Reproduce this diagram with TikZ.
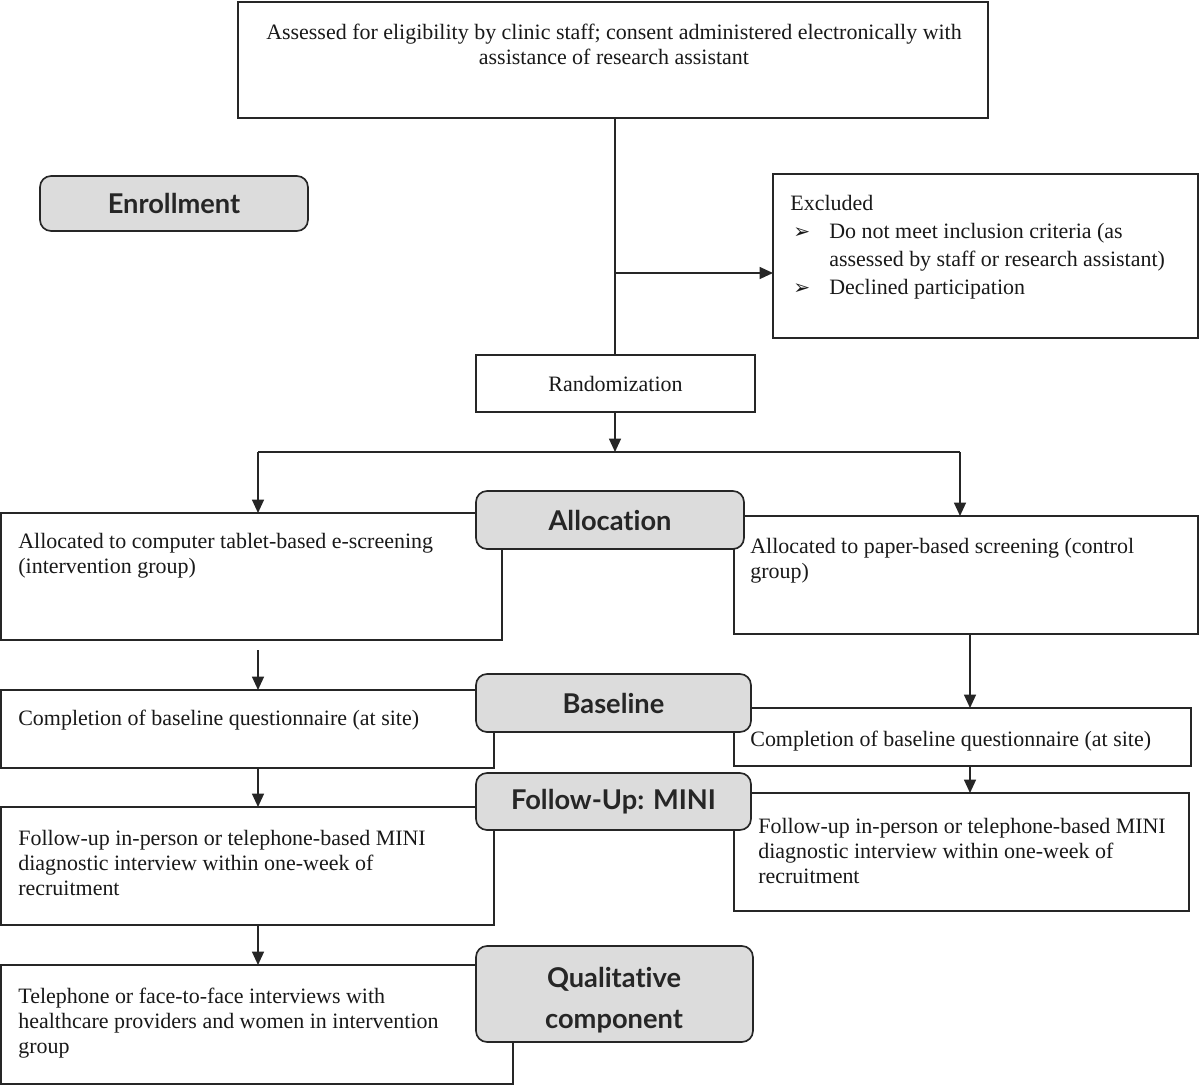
\documentclass[tikz,border=0pt]{standalone}
\usepackage{fontspec}
\setmainfont{Liberation Serif}
\newfontfamily\labfont[Ligatures=NoCommon]{Lato}
\newfontfamily\dejavu{DejaVu Sans}
\usetikzlibrary{arrows.meta}
\definecolor{labgray}{HTML}{DCDCDC}
\definecolor{edge}{HTML}{262626}
\begin{document}
\begin{tikzpicture}[x=0.02cm,y=-0.02cm,
  box/.style={draw=edge,line width=0.95pt,rectangle,anchor=north west,inner sep=0pt,outer sep=0pt},
  lab/.style={draw=edge,line width=0.95pt,fill=labgray,rounded corners=0.22cm,anchor=north west,inner sep=0pt,outer sep=0pt,
     font=\labfont\bfseries\fontsize{15.5}{23}\selectfont,text=black!85,align=center},
  labtxt/.style={inner sep=0pt,font=\labfont\bfseries\fontsize{15.5}{23}\selectfont,text=black!85,align=center},
  txt/.style={inner sep=0pt,anchor=west,align=left,font=\fontsize{12.5}{14.2}\selectfont,text=black!90},
  ln/.style={draw=edge,line width=0.95pt},
  arr/.style={draw=edge,line width=0.95pt,-{Triangle[length=0.27cm,width=0.24cm]}}]
\useasboundingbox[fill=white] (0,0) rectangle (1200,1086);

% boxes
\node[box,minimum width=15cm,minimum height=2.32cm] (top) at (238,2) {};
\node[txt,anchor=center,align=center] (toptxt) at (614,44) {Assessed for eligibility by clinic staff; consent administered electronically with\\assistance of research assistant};

\node[box,minimum width=8.5cm,minimum height=3.28cm] (excl) at (773,174) {};
\node[txt,font=\fontsize{12.5}{15.9}\selectfont] (excltxt) at (790,247) {Excluded\\
\hspace*{0.06cm}\makebox[0.72cm][l]{\dejavu\fontsize{11.5}{11}\selectfont ➢}Do not meet inclusion criteria (as\\
\hspace*{0.78cm}assessed by staff or research assistant)\\
\hspace*{0.06cm}\makebox[0.72cm][l]{\dejavu\fontsize{11.5}{11}\selectfont ➢}Declined participation};

\node[box,minimum width=5.58cm,minimum height=1.14cm] (rand) at (476,355) {};
\node[txt,anchor=center] (randtxt) at (rand.center) {Randomization};

\node[box,minimum width=10.02cm,minimum height=2.54cm] (alloL) at (1,513) {};
\node[txt] (alloLtxt) at (18,556) {Allocated to computer tablet-based e-screening\\(intervention group)};
\node[box,minimum width=9.28cm,minimum height=2.36cm] (alloR) at (734,516) {};
\node[txt] (alloRtxt) at (750,561) {Allocated to paper-based screening (control\\group)};

\node[box,minimum width=9.86cm,minimum height=1.56cm] (baseL) at (1,690) {};
\node[txt] (baseLtxt) at (18,720) {Completion of baseline questionnaire (at site)};
\node[box,minimum width=9.14cm,minimum height=1.16cm] (baseR) at (734,708) {};
\node[txt] (baseRtxt) at (750,741) {Completion of baseline questionnaire (at site)};

\node[box,minimum width=9.86cm,minimum height=2.36cm] (folL) at (1,807) {};
\node[txt] (folLtxt) at (18,863) {Follow-up in-person or telephone-based MINI\\diagnostic interview within one-week of\\recruitment};
\node[box,minimum width=9.1cm,minimum height=2.36cm] (folR) at (734,793) {};
\node[txt] (folRtxt) at (758,851) {Follow-up in-person or telephone-based MINI\\diagnostic interview within one-week of\\recruitment};

\node[box,minimum width=10.24cm,minimum height=2.38cm] (qualL) at (1,965) {};
\node[txt] (qualLtxt) at (18,1023) {Telephone or face-to-face interviews with\\healthcare providers and women in intervention\\group};

% stage labels
\node[lab,minimum width=5.36cm,minimum height=1.1cm] (enr) at (40,176) {Enrollment};
\node[lab,minimum width=5.36cm,minimum height=1.16cm] (alloc) at (476,491) {Allocation};
\node[lab,minimum width=5.5cm,minimum height=1.16cm] (basel) at (476,674) {Baseline};
\node[lab,minimum width=5.5cm,minimum height=1.14cm] (follow) at (476,773) {Follow-Up: MINI};
\node[lab,minimum width=5.54cm,minimum height=1.92cm] (qual) at (476,946) {};
\node[labtxt] (qualtxt) at (614,1000) {Qualitative\\component};

% connectors
\coordinate (split) at (615,273);
\coordinate (fork) at (615,452);
\coordinate (forkL) at (258,452);
\coordinate (forkR) at (960,452);
\coordinate (colL) at (258,650);
\coordinate (colR) at (970,0);

\draw[ln] (top.south -| split) -- (rand.north -| split);
\draw[arr] (split) -- (excl.west |- split);
\draw[arr] (rand.south -| fork) -- (fork);
\draw[ln] (forkL) -- (forkR);
\draw[arr] (forkL) -- (alloL.north -| forkL);
\draw[arr] (forkR) -- (alloR.north -| forkR);
\draw[arr] (colL) -- (baseL.north -| colL);
\draw[arr] (baseL.south -| colL) -- (folL.north -| colL);
\draw[arr] (folL.south -| colL) -- (qualL.north -| colL);
\draw[arr] (alloR.south -| colR) -- (baseR.north -| colR);
\draw[arr] (baseR.south -| colR) -- (folR.north -| colR);
\end{tikzpicture}
\end{document}
